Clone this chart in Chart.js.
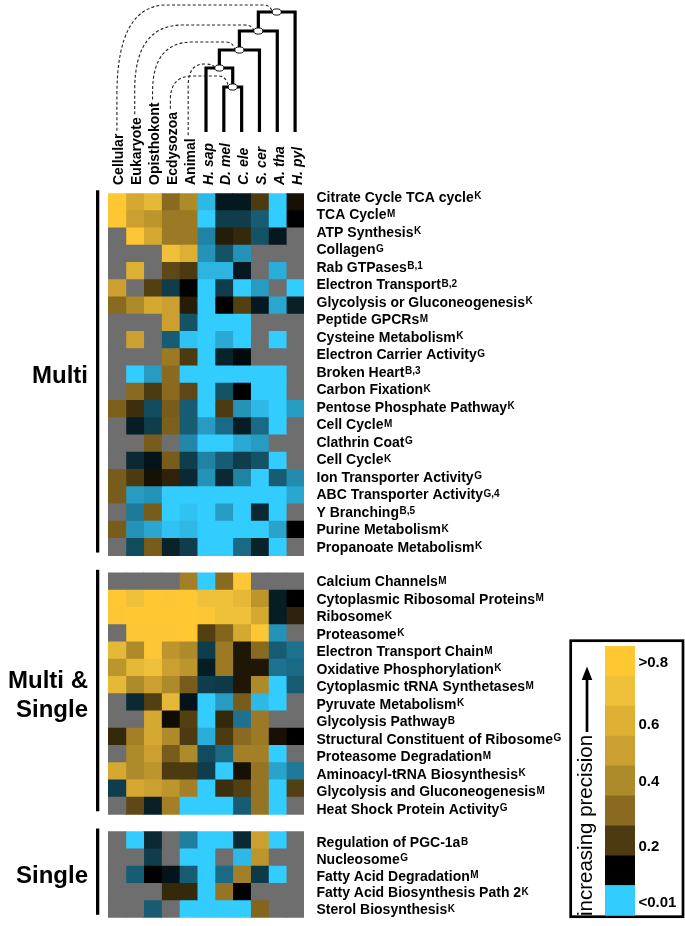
<!DOCTYPE html>
<html><head><meta charset="utf-8">
<script src="https://cdn.jsdelivr.net/npm/chart.js@4.4.1/dist/chart.umd.min.js"></script>
<style>html,body{margin:0;padding:0;background:#fff;} canvas{display:block;}</style>
</head><body>
<canvas id="c" width="685" height="926"></canvas>
<script>
// ---------- DATA ----------
const columns = ['Cellular','Eukaryote','Opisthokont','Ecdysozoa','Animal','H. sap','D. mel','C. ele','S. cer','A. tha','H. pyl'];
const italicColumns = [false,false,false,false,false,true,true,true,true,true,true];

const multiLabels = ['Citrate Cycle TCA cycle','TCA Cycle','ATP Synthesis','Collagen','Rab GTPases','Electron Transport','Glycolysis or Gluconeogenesis','Peptide GPCRs','Cysteine Metabolism','Electron Carrier Activity','Broken Heart','Carbon Fixation','Pentose Phosphate Pathway','Cell Cycle','Clathrin Coat','Cell Cycle','Ion Transporter Activity','ABC Transporter Activity','Y Branching','Purine Metabolism','Propanoate Metabolism'];
const multiSups = ['K','M','K','G','B,1','B,2','K','M','K','G','B,3','K','K','M','G','K','G','G,4','B,5','K','K'];
const multiValues = [
  [0.85,0.55,0.65,0.30,0.40,0.010,0.088,0.088,0.20,0,0.13],
  [0.78,0.50,0.45,0.35,0.35,0,0.070,0.070,0.055,0,0.10],
  [null,0.78,0.55,0.35,0.35,0.036,0.15,0.17,0.060,0.088,null],
  [null,null,null,0.70,0.60,0.028,0.060,0.028,null,null,null],
  [null,0.60,null,0.23,0.20,0.012,0.012,0.088,null,0.015,null],
  [0.50,null,0.21,0.070,0.10,0,0.070,0,0.024,null,0],
  [0.30,0.40,0.55,0.50,0.15,0,0.10,0.21,0.088,0.018,0.085],
  [null,null,null,0.50,0.060,0,0,0,null,null,null],
  [null,0.50,null,0.055,0.005,0,0.017,0,null,0,null],
  [null,null,null,0.35,0.20,0,0.083,0.095,null,null,null],
  [null,0,0.024,0.30,0,0,0,0,0,0,null],
  [null,0.30,0.20,0.30,0.23,0,0.060,0.10,0,0,null],
  [0.28,0.18,0.063,0.27,0.055,0,0.20,0.028,0.010,0,0.024],
  [null,0.086,0.070,0.28,0.055,0.024,0.048,0.086,0.048,0,null],
  [null,null,0.27,null,0.034,0,0,0.017,0.024,null,null],
  [null,0.080,0.090,0.27,0.070,0.036,0.055,0.070,0.060,0,null],
  [0.27,0.20,0.13,0.16,0.080,0.028,0.080,0.036,0,0.055,0.032],
  [0.27,0.024,0.028,0,0,0,0,0,0,0,0.018],
  [null,0.040,0.27,0,0.005,0,0.024,0,0.080,0,null],
  [0.27,0.028,0.018,0.005,0.010,0,0,0,0,0.020,0.10],
  [null,0.063,0.27,0.083,0.070,0,0,0.048,0.083,0,null]
];

const msLabels = ['Calcium Channels','Cytoplasmic Ribosomal Proteins','Ribosome','Proteasome','Electron Transport Chain','Oxidative Phosphorylation','Cytoplasmic tRNA Synthetases','Pyruvate Metabolism','Glycolysis Pathway','Structural Constituent of Ribosome','Proteasome Degradation','Aminoacyl-tRNA Biosynthesis','Glycolysis and Gluconeogenesis','Heat Shock Protein Activity'];
const msSups = ['M','M','K','K','M','K','M','K','B','G','M','K','M','G'];
const msValues = [
  [null,null,null,null,0.37,0,0.30,0.78,null,null,null],
  [0.85,0.70,0.85,0.78,0.85,0.70,0.70,0.65,0.45,0.086,0.10],
  [0.78,0.85,0.85,0.85,0.85,0.78,0.70,0.70,0.55,0.086,0.16],
  [null,0.78,0.78,0.78,0.85,0.21,0.29,0.55,0.78,0.028,null],
  [0.65,0.40,0.78,0.45,0.40,0.070,0.35,0.14,0.30,0.055,0.044],
  [0.45,0.65,0.70,0.50,0.45,0.086,0.35,0.14,0.14,0.044,0.048],
  [0.65,0.40,0.50,0.40,0.27,0.070,0.072,0.14,0.40,0,0.055],
  [null,0.080,0.21,0.65,0.090,0,0.024,0.27,0.010,0,null],
  [null,null,0.55,0.12,0.21,0,0.17,0.044,0.35,null,null],
  [0.17,0.37,0.55,0.40,0.20,0.015,0.20,0.30,0.35,0.13,0.10],
  [null,0.40,0.50,0.27,0.40,0.063,0.048,0.37,0.37,0,null],
  [0.55,0.40,0.45,0.20,0.20,0.070,0,0.13,0.33,0.020,0.040],
  [0.070,0.55,0.50,0.45,0.37,0,0.18,0.21,0.33,0,0.21],
  [null,0.23,0.085,0.37,0,0,0,0.055,0.33,0,null]
];

const singleLabels = ['Regulation of PGC-1a','Nucleosome','Fatty Acid Degradation','Fatty Acid Biosynthesis Path 2','Sterol Biosynthesis'];
const singleSups = ['B','G','M','K','K'];
const singleValues = [
  [null,0,0.080,null,0.038,0,0,0.080,0.50,0,null],
  [null,null,0.070,null,0,0,null,0.010,0.45,null,null],
  [null,0.055,0.10,0.090,0.055,0,0.048,0.37,0.072,0,null],
  [null,null,null,0.17,0.17,0,0.33,0.10,null,null,null],
  [null,null,0.055,null,0,0,0,0,0.29,null,null]
];

const legendValues = [0.8,0.7,0.6,0.5,0.4,0.3,0.2,0.1,0];
const legendTicks = ['>0.8','0.6','0.4','0.2','<0.01'];

// ---------- COLOR MAP ----------
const GRAY = 'rgb(110,110,110)';
const stops = [[0,[51,204,255]],[0.1,[0,0,0]],[0.2,[76,58,16]],[0.3,[138,106,32]],[0.4,[173,138,42]],[0.5,[204,160,48]],[0.6,[221,176,52]],[0.7,[239,192,58]],[0.8,[255,200,50]]];
function colorFor(v){
  if (v === null || v === undefined) return GRAY;
  if (v <= stops[0][0]) return 'rgb('+stops[0][1].join(',')+')';
  for (let i=1;i<stops.length;i++){
    if (v <= stops[i][0]){
      const [a,ca]=stops[i-1],[b,cb]=stops[i];
      const t=(v-a)/(b-a);
      return 'rgb('+ca.map((c,k)=>Math.round(c+(cb[k]-c)*t)).join(',')+')';
    }
  }
  return 'rgb('+stops[stops.length-1][1].join(',')+')';
}

// ---------- ROWS ----------
const sections = [
  {name:['Multi'], labels:multiLabels, sups:multiSups, values:multiValues, drift:[-5,0]},
  {name:['Multi &','Single'], labels:msLabels, sups:msSups, values:msValues, drift:[0,3]},
  {name:['Single'], labels:singleLabels, sups:singleSups, values:singleValues, drift:[2,0]}
];
const rowKeys=[], rowVals=[], rowInfo=[];
sections.forEach((s,si)=>{
  if (si>0){ rowKeys.push('gap'+si); rowVals.push(null); rowInfo.push(null); }
  s.labels.forEach((l,k)=>{ rowKeys.push(si+'-'+k); rowVals.push(s.values[k]); rowInfo.push({si,k}); });
});

const datasets = columns.map((c,j)=>({
  label:c,
  data: rowVals.map(r=> r ? 1 : null),
  backgroundColor: rowVals.map(r=> r ? colorFor(r[j]) : 'rgba(0,0,0,0)'),
  borderWidth:0, barPercentage:1, categoryPercentage:1, inflateAmount:0.4
}));

const FONT = '"Liberation Sans", Arial, Helvetica, sans-serif';

const decor = {
  id:'decor',
  afterDraw(chart){
    const ctx=chart.ctx, xs=chart.scales.x, ys=chart.scales.y;
    const cx = j => xs.getPixelForValue(j+0.5);
    const band = ys.height / rowKeys.length;
    ctx.save();
    ctx.fillStyle='#000';

    // row labels
    rowInfo.forEach((info,i)=>{
      if(!info) return;
      const s=sections[info.si], n=s.labels.length;
      const drift = s.drift[0] + (s.drift[1]-s.drift[0])*info.k/(n-1);
      const base = ys.getPixelForValue(i) + drift + 5;
      const x0 = xs.right + 12.5;
      ctx.textAlign='left'; ctx.textBaseline='alphabetic';
      ctx.font='bold 14px '+FONT;
      ctx.fillText(s.labels[info.k], x0, base);
      const w = ctx.measureText(s.labels[info.k]).width;
      ctx.font='bold 10px '+FONT;
      ctx.fillText(s.sups[info.k], x0+w+0.5, base-2.5);
    });

    // section bars + names
    let idx=0;
    sections.forEach((s,si)=>{
      if(si>0) idx++;
      const i0=idx, i1=idx+s.labels.length-1;
      idx=i1+1;
      const top = ys.getPixelForValue(i0)-band/2, bot = ys.getPixelForValue(i1)+band/2;
      ctx.fillRect(96, top-3, 3.3, bot-top);
      const mid=(top+bot)/2;
      ctx.font='bold 24px '+FONT; ctx.textAlign='right'; ctx.textBaseline='alphabetic';
      const lh=29, nL=s.name.length;
      s.name.forEach((t,li)=>{
        ctx.fillText(t, 88, mid + 8.5 + (li-(nL-1)/2)*lh);
      });
    });

    // column headers
    columns.forEach((c,j)=>{
      ctx.save();
      ctx.translate(cx(j)+6.5, 185);
      ctx.rotate(-Math.PI/2);
      ctx.font=(italicColumns[j]?'italic ':'')+'bold 14px '+FONT;
      ctx.textAlign='left'; ctx.textBaseline='alphabetic';
      ctx.fillText(c,0,0);
      ctx.restore();
    });

    // tree
    const yb=132;
    const A={x:(cx(6)+cx(7))/2,y:87};
    const B={x:(cx(5)+A.x)/2,y:68};
    const C={x:(B.x+cx(8))/2,y:50};
    const D={x:(C.x+cx(9))/2,y:31};
    const E={x:(D.x+cx(10))/2,y:12};
    ctx.strokeStyle='#000'; ctx.lineWidth=3.2; ctx.lineJoin='miter'; ctx.lineCap='butt';
    const poly=pts=>{ctx.beginPath();ctx.moveTo(pts[0][0],pts[0][1]);pts.slice(1).forEach(p=>ctx.lineTo(p[0],p[1]));ctx.stroke();};
    poly([[cx(6),yb],[cx(6),A.y],[cx(7),A.y],[cx(7),yb]]);
    poly([[cx(5),yb],[cx(5),B.y],[A.x,B.y],[A.x,A.y]]);
    poly([[B.x,B.y],[B.x,C.y],[cx(8),C.y],[cx(8),yb]]);
    poly([[C.x,C.y],[C.x,D.y],[cx(9),D.y],[cx(9),yb]]);
    poly([[D.x,D.y],[D.x,E.y],[cx(10),E.y],[cx(10),yb]]);

    // dashed links from ancestral labels to nodes
    ctx.save();
    ctx.setLineDash([3,2.2]); ctx.lineWidth=1.1; ctx.strokeStyle='#222';
    ctx.font='bold 14px '+FONT;
    const link=(j,node,yt,R,H)=>{
      const x0=cx(j), y0=185-ctx.measureText(columns[j]).width-3;
      ctx.beginPath();
      ctx.moveTo(x0,y0);
      ctx.lineTo(x0,yt+H);
      ctx.quadraticCurveTo(x0,yt,x0+R,yt);
      ctx.lineTo(Math.max(x0+R,node.x-14),yt);
      ctx.quadraticCurveTo(node.x-6,yt,node.x-4.5,node.y);
      ctx.stroke();
    };
    link(0,E,5,50,90);
    link(1,D,25,48,65);
    link(2,C,42,40,50);
    link(3,A,76,22,24);
    link(4,B,64,16,22);
    ctx.restore();

    // node ellipses
    [A,B,C,D,E].forEach(n=>{
      ctx.beginPath(); ctx.ellipse(n.x,n.y,4.6,3.1,0,0,Math.PI*2);
      ctx.fillStyle='#fff'; ctx.fill(); ctx.lineWidth=1; ctx.strokeStyle='#000'; ctx.stroke();
    });

    // legend
    ctx.fillStyle='#000';
    ctx.lineWidth=2.7; ctx.strokeStyle='#000';
    ctx.strokeRect(570.7,640.7,112.3,276);
    const lb0=646, lbh=29.9;
    legendValues.forEach((v,i)=>{
      ctx.fillStyle=colorFor(v);
      ctx.fillRect(605, lb0+i*lbh, 30, lbh+0.5);
    });
    ctx.fillStyle='#000';
    ctx.font='bold 15px '+FONT; ctx.textAlign='left'; ctx.textBaseline='middle';
    const tickY=[663,725,782,847,903];
    legendTicks.forEach((t,i)=>ctx.fillText(t,638.5,tickY[i]));
    // arrow
    ctx.lineWidth=2.7;
    ctx.beginPath(); ctx.moveTo(587,732); ctx.lineTo(587,676); ctx.stroke();
    ctx.beginPath(); ctx.moveTo(587,666.5); ctx.lineTo(592.3,680); ctx.lineTo(581.7,680); ctx.closePath(); ctx.fill();
    ctx.save();
    ctx.translate(592,916); ctx.rotate(-Math.PI/2);
    ctx.font='20.5px '+FONT; ctx.textBaseline='alphabetic'; ctx.textAlign='left';
    ctx.fillText('increasing precision',0,0);
    ctx.restore();

    ctx.restore();
  }
};

new Chart(document.getElementById('c'), {
  type:'bar',
  data:{ labels: rowKeys, datasets },
  options:{
    indexAxis:'y',
    responsive:false,
    animation:false,
    events:[],
    layout:{ padding:{ left:108, right:685-304, top:193.3, bottom:926-917.8 } },
    scales:{
      x:{ type:'linear', stacked:true, min:0, max:11, display:false },
      y:{ stacked:true, display:false }
    },
    plugins:{ legend:{display:false}, tooltip:{enabled:false} }
  },
  plugins:[decor]
});
</script>
</body></html>
